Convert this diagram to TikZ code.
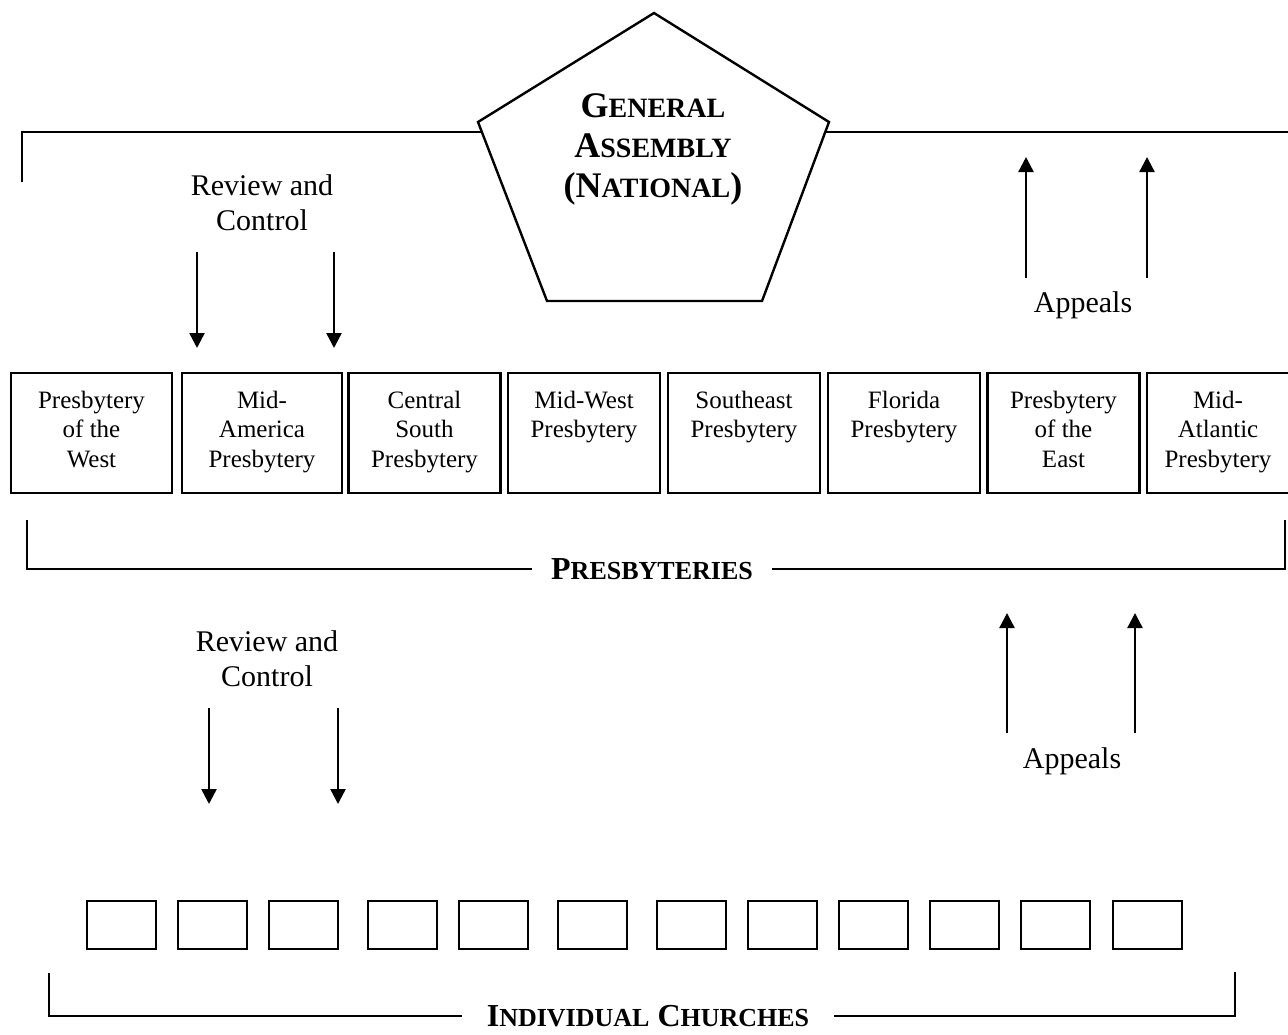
\documentclass[tikz,border=0pt]{standalone}
\usepackage{fontspec}
\setmainfont{Liberation Serif}
\usetikzlibrary{arrows.meta,positioning}
\newcommand{\scx}[2][13]{{\fontsize{#1}{#1}\selectfont #2}}
\newcommand{\ptext}[1]{\parbox[c][42pt][t]{68pt}{\centering #1}}
\tikzstyle{pbox} = [rectangle, draw, line width=1.2pt, minimum width=76pt,
    minimum height=60pt, inner sep=0pt, font=\fontsize{12.5}{14.8}\selectfont]
\tikzstyle{cbox} = [rectangle, draw, line width=1.2pt, minimum width=34.5pt,
    minimum height=24pt]
\tikzstyle{note} = [align=center, font=\fontsize{15}{17.5}\selectfont]
\tikzstyle{title} = [inner xsep=9pt, font=\bfseries\fontsize{16}{16}\selectfont]

\begin{document}
\begin{tikzpicture}[x=0.5pt,y=-0.5pt,->,>={Triangle[length=7.5pt,width=7.5pt]},
                    line width=1.2pt]
  \useasboundingbox (0,0) rectangle (1288,1034);

  % general assembly
  \coordinate (ga1) at (654,13);
  \coordinate (ga2) at (829,122);
  \coordinate (ga3) at (762,301);
  \coordinate (ga4) at (547,301);
  \coordinate (ga5) at (478,122);
  \draw[-] (ga1) -- (ga2) -- (ga3) -- (ga4) -- (ga5) -- cycle;
  \node[align=center, font=\bfseries\fontsize{18}{20}\selectfont] (ga) at (653,149)
    {G\scx[14]{ENERAL}\\A\scx[14]{SSEMBLY}\\(N\scx[14]{ATIONAL})};

  \coordinate (gaL) at (482,132);
  \coordinate (gaR) at (825,132);
  \draw[-] (22,182) coordinate (brL) |- (gaL);
  \draw[-] (gaR) -- (1288,132) coordinate (brR);

  % presbyteries
  \node[pbox,minimum width=80.5pt] (pw)  at (91.5,433)  {\ptext{Presbytery\\of the\\West}};
  \node[pbox,minimum width=80pt]   (ma)  at (262,433)   {\ptext{Mid-\\America\\Presbytery}};
  \node[pbox]                      (cs)  at (424.5,433) {\ptext{Central\\South\\Presbytery}};
  \node[pbox]                      (mw)  at (584,433)   {\ptext{Mid-West\\Presbytery}};
  \node[pbox]                      (se)  at (744,433)   {\ptext{Southeast\\Presbytery}};
  \node[pbox]                      (fl)  at (904,433)   {\ptext{Florida\\Presbytery}};
  \node[pbox]                      (pe)  at (1063.5,433){\ptext{Presbytery\\of the\\East}};
  \node[pbox,minimum width=71pt]   (mat) at (1218,433)  {\ptext{Mid-\\Atlantic\\Presbytery}};

  \node[title] (pres) at (652,569) {P\scx{RESBYTERIES}};
  \draw[-] (27,520) |- (pres.west);
  \draw[-] (pres.east) -| (1285,520);

  % review and control / appeals
  \node[note] (rc1) at (262,203) {Review and\\Control};
  \coordinate (rc1a) at (197,252);  \coordinate (rc1b) at (197,348);
  \coordinate (rc1c) at (334,252);  \coordinate (rc1d) at (334,348);
  \draw (rc1a) -- (rc1b);
  \draw (rc1c) -- (rc1d);

  \node[note] (ap1) at (1083,305) {Appeals};
  \coordinate (ap1a) at (1026,278); \coordinate (ap1b) at (1026,157);
  \coordinate (ap1c) at (1147,278); \coordinate (ap1d) at (1147,157);
  \draw (ap1a) -- (ap1b);
  \draw (ap1c) -- (ap1d);

  \node[note] (rc2) at (267,659) {Review and\\Control};
  \coordinate (rc2a) at (209,708);  \coordinate (rc2b) at (209,804);
  \coordinate (rc2c) at (338,708);  \coordinate (rc2d) at (338,804);
  \draw (rc2a) -- (rc2b);
  \draw (rc2c) -- (rc2d);

  \node[note] (ap2) at (1072,761) {Appeals};
  \coordinate (ap2a) at (1007,733); \coordinate (ap2b) at (1007,613);
  \coordinate (ap2c) at (1135,733); \coordinate (ap2d) at (1135,613);
  \draw (ap2a) -- (ap2b);
  \draw (ap2c) -- (ap2d);

  % individual churches
  \foreach \cx [count=\i] in {121.5,212.5,303.5,402.5,493.5,592.5,691.5,782.5,873.5,964.5,1055.5,1147.5}
    \node[cbox] (ch\i) at (\cx,925) {};

  \node[title, inner xsep=12pt] (ic) at (648,1016) {I\scx{NDIVIDUAL} C\scx{HURCHES}};
  \draw[-] (49,973) |- (ic.west);
  \draw[-] (ic.east) -| (1235,972);
\end{tikzpicture}
\end{document}
